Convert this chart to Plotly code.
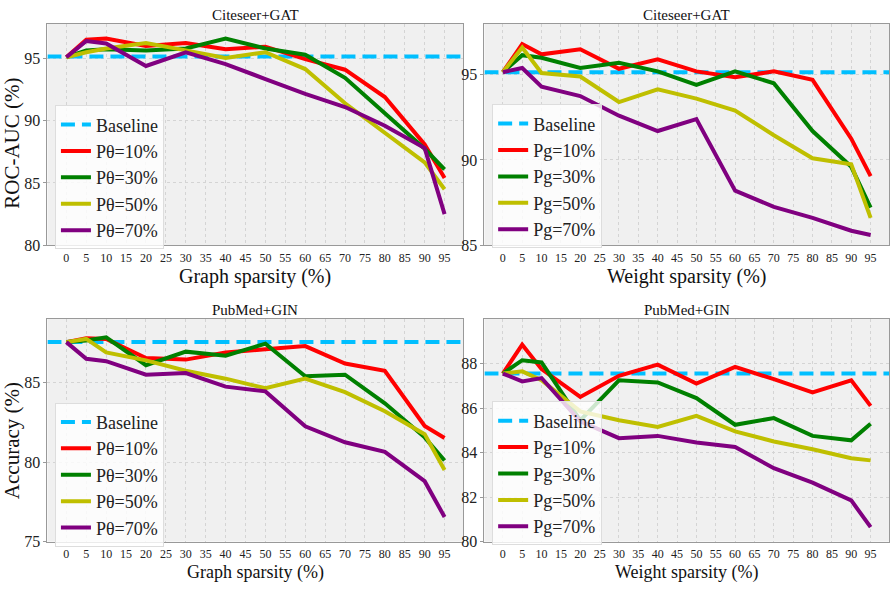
import plotly.graph_objects as go

# ---------------- data ----------------
sparsity = [0, 5, 10, 20, 30, 40, 50, 60, 70, 80, 90, 95]
tick_vals = list(range(0, 100, 5))

baseline_citeseer = 95.15
baseline_pubmed = 87.55

# Citeseer+GAT, graph sparsity (ROC-AUC)
cite_graph_p10 = [95.1, 96.5, 96.6, 96.0, 96.25, 95.75, 95.95, 94.95, 94.1, 91.9, 88.1, 85.4]
cite_graph_p30 = [95.1, 95.65, 95.75, 95.65, 95.8, 96.6, 95.8, 95.3, 93.45, 90.65, 87.75, 86.1]
cite_graph_p50 = [95.1, 95.5, 95.8, 96.25, 95.65, 95.05, 95.5, 94.15, 91.4, 89.0, 86.65, 84.5]
cite_graph_p70 = [95.1, 96.4, 96.2, 94.4, 95.5, 94.55, 93.35, 92.15, 91.1, 89.6, 87.8, 82.5]

# Citeseer+GAT, weight sparsity (ROC-AUC)
cite_weight_p10 = [95.15, 96.8, 96.2, 96.5, 95.35, 95.9, 95.2, 94.85, 95.2, 94.7, 91.25, 89.05]
cite_weight_p30 = [95.15, 96.15, 96.0, 95.4, 95.7, 95.2, 94.4, 95.2, 94.5, 91.7, 89.6, 87.2]
cite_weight_p50 = [95.15, 96.6, 95.1, 94.9, 93.4, 94.15, 93.6, 92.9, 91.45, 90.1, 89.75, 86.6]
cite_weight_p70 = [95.15, 95.4, 94.3, 93.75, 92.6, 91.7, 92.4, 88.2, 87.25, 86.6, 85.85, 85.6]

# PubMed+GIN, graph sparsity (Accuracy)
pub_graph_p10 = [87.55, 87.8, 87.75, 86.55, 86.45, 86.9, 87.1, 87.3, 86.2, 85.75, 82.27, 81.52]
pub_graph_p30 = [87.55, 87.65, 87.85, 86.1, 86.95, 86.7, 87.45, 85.4, 85.5, 83.7, 81.56, 80.1]
pub_graph_p50 = [87.55, 87.75, 86.9, 86.4, 85.75, 85.25, 84.65, 85.25, 84.4, 83.2, 81.76, 79.5]
pub_graph_p70 = [87.55, 86.5, 86.35, 85.5, 85.6, 84.75, 84.45, 82.25, 81.25, 80.65, 78.8, 76.55]

# PubMed+GIN, weight sparsity (Accuracy)
pub_weight_p10 = [87.55, 88.85, 87.75, 86.5, 87.45, 87.95, 87.1, 87.85, 87.3, 86.7, 87.25, 86.1]
pub_weight_p30 = [87.55, 88.15, 88.05, 85.45, 87.25, 87.15, 86.45, 85.25, 85.55, 84.75, 84.55, 85.3]
pub_weight_p50 = [87.55, 87.65, 87.25, 85.85, 85.45, 85.15, 85.65, 84.95, 84.5, 84.15, 83.75, 83.65]
pub_weight_p70 = [87.55, 87.2, 87.35, 85.4, 84.65, 84.75, 84.45, 84.25, 83.3, 82.65, 81.85, 80.65]

graph_labels = ["Pθ=10%", "Pθ=30%", "Pθ=50%", "Pθ=70%"]
weight_labels = ["Pg=10%", "Pg=30%", "Pg=50%", "Pg=70%"]
colors = ["#FF0000", "#008000", "#BFBF00", "#800080"]
baseline_color = "#00BFFF"

x_range = [-4.75, 99.75]

FONT = "Liberation Serif, Times New Roman, serif"

panels = [
    # (series, labels, baseline, yrange, ytick, xaxis id, yaxis id, legend id)
    ([cite_graph_p10, cite_graph_p30, cite_graph_p50, cite_graph_p70], graph_labels,
     baseline_citeseer, [80, 97.8], [80, 85, 90, 95], "x", "y", "legend"),
    ([cite_weight_p10, cite_weight_p30, cite_weight_p50, cite_weight_p70], weight_labels,
     baseline_citeseer, [85, 98.0], [85, 90, 95], "x2", "y2", "legend2"),
    ([pub_graph_p10, pub_graph_p30, pub_graph_p50, pub_graph_p70], graph_labels,
     baseline_pubmed, [75, 89.0], [75, 80, 85], "x3", "y3", "legend3"),
    ([pub_weight_p10, pub_weight_p30, pub_weight_p50, pub_weight_p70], weight_labels,
     baseline_pubmed, [80, 90.0], [80, 82, 84, 86, 88], "x4", "y4", "legend4"),
]

fig = go.Figure()

for series, labels, base, yr, yt, xa, ya, lg in panels:
    fig.add_trace(go.Scatter(
        x=x_range, y=[base, base], mode="lines", name="Baseline",
        line=dict(color=baseline_color, width=4, dash="14px,7px"),
        xaxis=xa, yaxis=ya, legend=lg))
    for vals, lab, col in zip(series, labels, colors):
        fig.add_trace(go.Scatter(
            x=sparsity, y=vals, mode="lines", name=lab,
            line=dict(color=col, width=4),
            xaxis=xa, yaxis=ya, legend=lg))

W, H = 890, 590
xd_left = [47.5 / W, 464 / W]
xd_right = [485 / W, 1.0]
yd_top = [1 - 249 / H, 1 - 24 / H]
yd_bot = [1 - 550 / H, 1 - 324 / H]

def xaxis(domain, anchor):
    return dict(domain=domain, anchor=anchor, range=x_range, tickmode="array",
                tickvals=tick_vals, ticktext=[str(v) for v in tick_vals],
                showgrid=True, gridcolor="#D4D4D4", griddash="dot", gridwidth=1,
                showline=True, linecolor="#999999", linewidth=1, mirror=True,
                ticks="", ticklabelstandoff=1,
                tickfont=dict(family=FONT, size=12, color="#222"), zeroline=False)

def yaxis(domain, anchor, yr, yt):
    return dict(domain=domain, anchor=anchor, range=yr, tickmode="array", tickvals=yt,
                showgrid=True, gridcolor="#D4D4D4", griddash="dot", gridwidth=1,
                showline=True, linecolor="#999999", linewidth=1, mirror=True,
                ticks="outside", ticklen=3, tickcolor="#999999",
                tickfont=dict(family=FONT, size=16, color="#222"), zeroline=False)

def legend(x, y):
    return dict(x=x, y=y, xanchor="left", yanchor="top", xref="paper", yref="paper",
                bgcolor="rgba(255,255,255,0.8)", bordercolor="#DDDDDD", borderwidth=1,
                font=dict(family=FONT, size=18, color="#222"), itemwidth=30,
                tracegroupgap=0)

fig.update_layout(
    width=W, height=H,
    margin=dict(l=0, r=0, t=0, b=0),
    font=dict(family=FONT),
    paper_bgcolor="white",
    plot_bgcolor="#F0F0F0",
    showlegend=True,
    xaxis=xaxis(xd_left, "y"),
    yaxis=yaxis(yd_top, "x", panels[0][3], panels[0][4]),
    xaxis2=xaxis(xd_right, "y2"),
    yaxis2=yaxis(yd_top, "x2", panels[1][3], panels[1][4]),
    xaxis3=xaxis(xd_left, "y3"),
    yaxis3=yaxis(yd_bot, "x3", panels[2][3], panels[2][4]),
    xaxis4=xaxis(xd_right, "y4"),
    yaxis4=yaxis(yd_bot, "x4", panels[3][3], panels[3][4]),
    legend=legend(55 / W, 1 - 107 / H),
    legend2=legend(492.7 / W, 1 - 106 / H),
    legend3=legend(55 / W, 1 - 409 / H),
    legend4=legend(492.7 / W, 1 - 407.7 / H),
)

def ann(text, x, y, size, angle=0):
    fig.add_annotation(text=text, x=x / W, y=1 - y / H, xref="paper", yref="paper",
                       showarrow=False, textangle=angle, xanchor="center", yanchor="middle",
                       font=dict(family=FONT, size=size, color="#111"))

cx_left = (47.5 + 464) / 2
cx_right = (485 + 890) / 2
# panel titles
ann("Citeseer+GAT", cx_left, 15, 15)
ann("Citeseer+GAT", cx_right, 15, 15)
ann("PubMed+GIN", cx_left, 315, 15)
ann("PubMed+GIN", cx_right, 315, 15)
# x-axis titles
ann("Graph sparsity (%)", cx_left, 281, 20)
ann("Weight sparsity (%)", cx_right, 281, 20)
ann("Graph sparsity (%)", cx_left, 581, 18)
ann("Weight sparsity (%)", cx_right, 581, 18)
# y-axis titles
ann("ROC-AUC (%)", 12, 145, 21, -90)
ann("Accuracy (%)", 12, 447, 21, -90)

fig.write_html("out.html")
